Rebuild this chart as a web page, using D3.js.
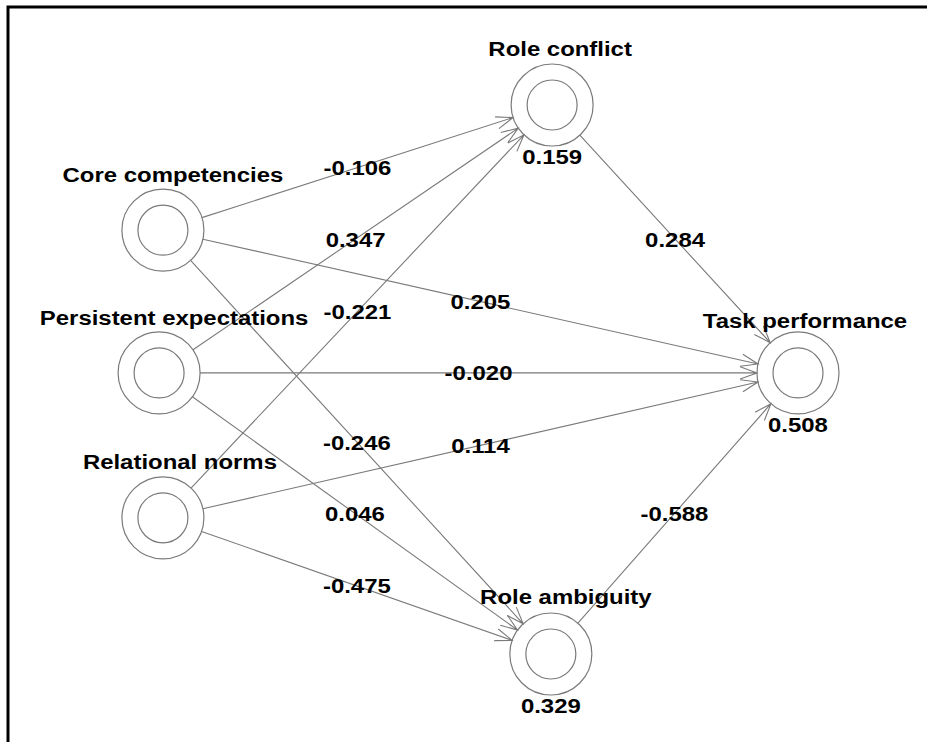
<!DOCTYPE html>
<html>
<head>
<meta charset="utf-8">
<script src="https://cdn.jsdelivr.net/npm/d3@7"></script>
<style>
  html, body { margin: 0; padding: 0; background: #fff; overflow: hidden; }
  svg { display: block; }
</style>
</head>
<body>
<div id="chart"></div>
<script>
// constructs and R squared of the endogenous ones
const nodeNames = ["Core competencies", "Persistent expectations", "Relational norms",
                   "Role conflict", "Role ambiguity", "Task performance"];
const rSquared = [null, null, null, 0.159, 0.329, 0.508];

// structural paths
const pathFrom = ["Core competencies", "Persistent expectations", "Relational norms",
                  "Core competencies", "Persistent expectations", "Relational norms",
                  "Core competencies", "Persistent expectations", "Relational norms",
                  "Role conflict", "Role ambiguity"];
const pathTo = ["Role conflict", "Role conflict", "Role conflict",
                "Task performance", "Task performance", "Task performance",
                "Role ambiguity", "Role ambiguity", "Role ambiguity",
                "Task performance", "Task performance"];
const pathCoef = ["-0.106", "0.347", "-0.221",
                  "0.205", "-0.020", "0.114",
                  "-0.246", "0.046", "-0.475",
                  "0.284", "-0.588"];
const r2Labels = rSquared.map(v => v == null ? null : v.toFixed(3));

// layout of the diagram (column / row units), kept apart from the data
const layout = {
  "Core competencies":       { col: 0.003,  row: 0.228, lx: 10, ly: -56 },
  "Persistent expectations": { col: -0.003, row: 0.488, lx: 15, ly: -55 },
  "Relational norms":        { col: 0.003,  row: 0.752, lx: 17, ly: -56.5 },
  "Role conflict":           { col: 0.614,  row: 0,     lx: 8,  ly: -56.5 },
  "Role ambiguity":          { col: 0.612,  row: 1,     lx: 15, ly: -57.5 },
  "Task performance":        { col: 1,      row: 0.488, lx: 7,  ly: -52.5 }
};

const width = 927, height = 742;
const rOuter = 41, rInner = 25;

let svg = d3.select("#chart").append("svg")
  .attr("width", width)
  .attr("height", height);

// frame: only its top and left edges fall inside the window
svg.append("path")
  .attr("d", "M8," + height + "V7H" + width)
  .attr("fill", "none")
  .attr("stroke", "#000")
  .attr("stroke-width", 3);

var x = d3.scaleLinear().domain([0, 1]).range([161, 798]);
var y = d3.scaleLinear().domain([0, 1]).range([105, 654]);

const nodes = nodeNames.map((name, i) => ({
  name: name,
  r2: r2Labels[i],
  x: x(layout[name].col),
  y: y(layout[name].row)
}));
const byName = {};
nodes.forEach(n => byName[n.name] = n);

const edges = pathFrom.map((f, i) => ({ s: byName[f], t: byName[pathTo[i]], coef: pathCoef[i] }));

const lineColor = "#7a7a7a";
const headLen = 18, headAngle = 20 * Math.PI / 180;

function edgePath(d) {
  let dx = d.t.x - d.s.x, dy = d.t.y - d.s.y;
  let len = Math.sqrt(dx * dx + dy * dy);
  let ux = dx / len, uy = dy / len;
  let x0 = d.s.x + ux * rOuter, y0 = d.s.y + uy * rOuter;
  let x1 = d.t.x - ux * rOuter, y1 = d.t.y - uy * rOuter;
  let a = Math.atan2(-uy, -ux);
  let p = d3.path();
  p.moveTo(x0, y0);
  p.lineTo(x1, y1);
  p.moveTo(x1 + headLen * Math.cos(a + headAngle), y1 + headLen * Math.sin(a + headAngle));
  p.lineTo(x1, y1);
  p.lineTo(x1 + headLen * Math.cos(a - headAngle), y1 + headLen * Math.sin(a - headAngle));
  return p.toString();
}

let root = svg.append("g");

root.selectAll(".edge")
  .data(edges)
  .enter()
  .append("path")
  .attr("class", "edge")
  .attr("d", edgePath)
  .attr("fill", "none")
  .attr("stroke", lineColor)
  .attr("stroke-width", 1.1);

let nodeG = root.selectAll(".node")
  .data(nodes)
  .enter()
  .append("g")
  .attr("class", "node")
  .attr("transform", d => "translate(" + d.x + "," + d.y + ")");

nodeG.append("circle")
  .attr("r", rOuter)
  .attr("fill", "none")
  .attr("stroke", lineColor)
  .attr("stroke-width", 1.2);
nodeG.append("circle")
  .attr("r", rInner)
  .attr("fill", "none")
  .attr("stroke", lineColor)
  .attr("stroke-width", 1.2);

// text is a bit wider than tall in the original
function boldText(sel) {
  return sel
    .attr("font-family", "'Liberation Sans', Arial, sans-serif")
    .attr("font-weight", "bold")
    .attr("font-size", 21)
    .attr("fill", "#000")
    .attr("text-anchor", "middle")
    .attr("dy", "0.36em");
}

root.selectAll(".coef")
  .data(edges)
  .enter()
  .append("text")
  .attr("class", "coef")
  .attr("transform", d => "translate(" + (d.s.x + d.t.x) / 2 + "," + (d.s.y + d.t.y) / 2 + ") scale(1.14,1)")
  .call(boldText)
  .text(d => d.coef);

nodeG.append("text")
  .attr("transform", d => "translate(" + layout[d.name].lx + "," + layout[d.name].ly + ") scale(1.14,1)")
  .call(boldText)
  .text(d => d.name);

nodeG.filter(d => d.r2 != null)
  .append("text")
  .attr("transform", "translate(0,51.5) scale(1.14,1)")
  .call(boldText)
  .text(d => d.r2);
</script>
</body>
</html>
